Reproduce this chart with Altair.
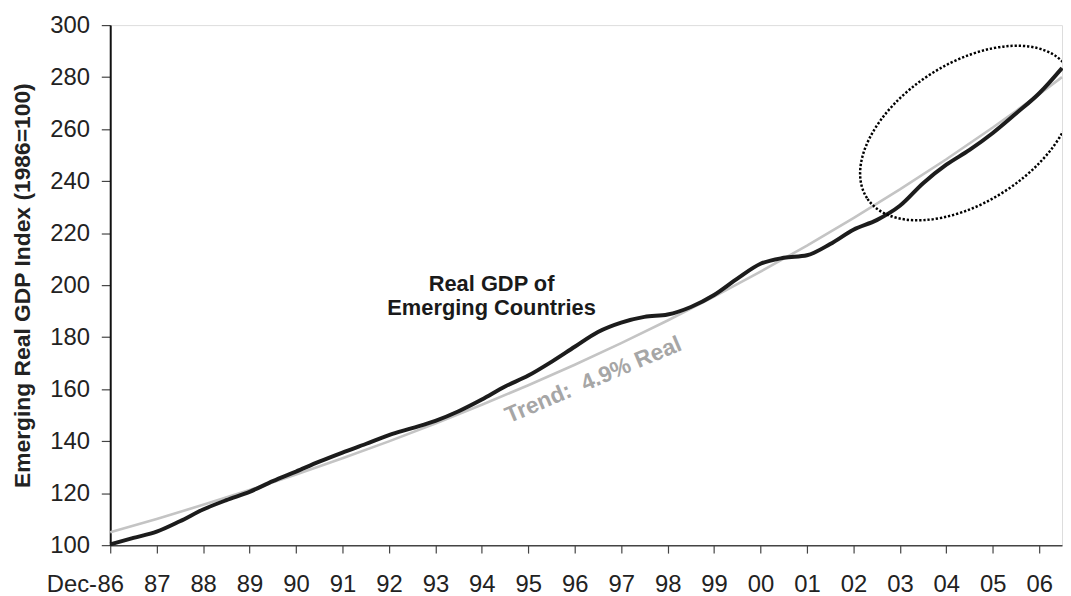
import altair as alt
import pandas as pd

FONT = "Liberation Sans"

# Years elapsed since Dec-1986 and the emerging-market real GDP index (1986=100)
gdp_years = [0, 0.5, 1, 1.5, 2, 2.5, 3, 3.5, 4, 4.5, 5, 5.5, 6, 6.5, 7, 7.5, 8, 8.5,
             9, 9.5, 10, 10.5, 11, 11.5, 12, 12.5, 13, 13.5, 14, 14.5, 15, 15.5,
             16, 16.5, 17, 17.5, 18, 18.5, 19, 19.5, 20, 20.49]
gdp_index = [100.3, 102.8, 105.2, 109.2, 113.7, 117.3, 120.5, 124.6, 128.3, 132.1,
             135.6, 138.9, 142.3, 145.0, 147.8, 151.5, 156.0, 161.0, 165.2, 170.5,
             176.3, 182.0, 185.6, 187.8, 188.7, 191.6, 196.2, 202.5, 208.2, 210.5,
             211.5, 215.8, 221.3, 225.0, 230.5, 239.2, 246.3, 252.0, 258.5, 266.0,
             273.8, 283.5]

# 4.9% real trend line
trend_years = [0, 1, 2, 3, 4, 5, 6, 7, 8, 9, 10, 11, 12, 13, 14, 15, 16, 17, 18, 19, 20, 20.49]
trend_index = [105.0, 110.1, 115.5, 121.2, 127.2, 133.4, 139.9, 146.8, 154.0, 161.5,
               169.4, 177.7, 186.4, 195.6, 205.2, 215.2, 225.8, 236.8, 248.4, 260.6,
               273.4, 280.0]

tick_labels = ["86", "87", "88", "89", "90", "91", "92", "93", "94", "95", "96",
               "97", "98", "99", "00", "01", "02", "03", "04", "05", "06"]
y_ticks = [100, 120, 140, 160, 180, 200, 220, 240, 260, 280, 300]

gdp_df = pd.DataFrame({"t": gdp_years, "v": gdp_index})
trend_df = pd.DataFrame({"t": trend_years, "v": trend_index})

label_expr = "[" + ",".join(f"'{s}'" for s in tick_labels) + "][datum.value]"

x_scale = alt.Scale(domain=[0, 20.49], nice=False, zero=False)
y_scale = alt.Scale(domain=[100, 300], nice=False, zero=False)

x_axis = alt.Axis(values=list(range(len(tick_labels))), labelExpr=label_expr, title=None,
                  grid=False, tickSize=8, tickColor="#444", tickWidth=1.2,
                  domainColor="#444", domainWidth=1.5, labelFontSize=24, labelFont=FONT,
                  labelColor="#222", labelPadding=20, labelFlush=False, labelOverlap=False)
y_axis = alt.Axis(values=y_ticks, title="Emerging Real GDP Index (1986=100)",
                  titleFont=FONT, titleFontSize=23, titleFontWeight="bold", titleColor="#222",
                  titlePadding=15, grid=False, tickSize=9, tickColor="#444", tickWidth=1.2,
                  domainColor="#111", domainWidth=2, labelFontSize=24, labelFont=FONT,
                  labelColor="#222", labelPadding=12)

x_enc = alt.X("t:Q", scale=x_scale, axis=x_axis)
y_enc = alt.Y("v:Q", scale=y_scale, axis=y_axis)

trend = alt.Chart(trend_df).mark_line(color="#c4c4c4", strokeWidth=2.6).encode(x=x_enc, y=y_enc)
gdp = alt.Chart(gdp_df).mark_line(color="#1c1c1c", strokeWidth=4, interpolate="monotone").encode(
    x=alt.X("t:Q", scale=x_scale), y=alt.Y("v:Q", scale=y_scale))

ell_df = pd.DataFrame({"t": [18.45], "v": [258.5]})
ellipse = alt.Chart(ell_df).mark_point(
    shape="M -1 0 A 1 0.58 0 1 1 1 0 A 1 0.58 0 1 1 -1 0 Z",
    size=58000, angle=327, filled=False, color="black", strokeWidth=2.5,
    strokeDash=[2.3, 1.9], opacity=1, clip=True
).encode(x=alt.X("t:Q", scale=x_scale), y=alt.Y("v:Q", scale=y_scale))

lbl_df = pd.DataFrame({"t": [8.21], "v": [197.8], "txt": ["Real GDP of\nEmerging Countries"]})
label = alt.Chart(lbl_df).mark_text(
    font=FONT, fontSize=22, fontWeight="bold", color="#1a1a1a", align="center",
    baseline="alphabetic", lineBreak="\n", lineHeight=24
).encode(x=alt.X("t:Q", scale=x_scale), y=alt.Y("v:Q", scale=y_scale), text="txt:N")

tr_df = pd.DataFrame({"t": [10.4], "v": [163.5], "txt": ["Trend:\u00a0 4.9% Real"]})
trend_label = alt.Chart(tr_df).mark_text(
    font=FONT, fontSize=23, fontWeight="bold", color="#a6a6a6", align="center",
    baseline="middle", angle=337
).encode(x=alt.X("t:Q", scale=x_scale), y=alt.Y("v:Q", scale=y_scale), text="txt:N")

dec_df = pd.DataFrame({"t": [0], "v": [100], "txt": ["Dec-"]})
dec_label = alt.Chart(dec_df).mark_text(
    font=FONT, fontSize=24, color="#222", align="right", baseline="top", dx=-13.3, dy=28
).encode(x=alt.X("t:Q", scale=x_scale), y=alt.Y("v:Q", scale=y_scale), text="txt:N")

chart = alt.layer(trend, gdp, ellipse, label, trend_label, dec_label).properties(
    width=959, height=524,
    padding={"left": 103, "top": 15, "right": 1, "bottom": 49},
    autosize=alt.AutoSizeParams(type="none"),
).configure_view(stroke="#6e6e6e", strokeWidth=1.5).configure(background="white")

chart.save("out.html", embed_options={"renderer": "svg", "actions": False})
